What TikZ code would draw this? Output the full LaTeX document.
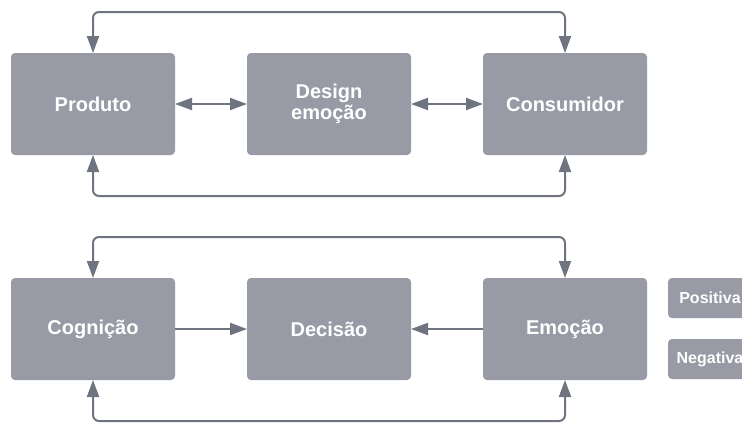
\documentclass[tikz,border=0pt]{standalone}
\usepackage{fontspec}
\setmainfont{Liberation Sans}
\usepackage{xcolor}
\usepackage{tikz}
\usetikzlibrary{arrows.meta,positioning}

\definecolor{boxgray}{HTML}{989BA5}
\definecolor{linegray}{HTML}{6F7480}

\begin{document}
\begin{tikzpicture}[
    x=1pt, y=-1pt,
    node distance=123pt and 72pt,
    box/.style={fill=boxgray, rounded corners=4pt, align=center, text=white,
      minimum width=164pt, minimum height=102pt, inner sep=0pt, outer sep=0pt,
      font=\fontsize{20}{21}\selectfont\bfseries},
    tag/.style={box, minimum width=84pt, minimum height=40pt,
      font=\fontsize{16}{18}\selectfont\bfseries},
    arr/.style={-{Triangle[length=17pt, width=12pt]}, line width=2pt, draw=linegray},
    arrs/.style={{Triangle[length=17pt, width=12pt]}-{Triangle[length=17pt, width=12pt]},
      line width=2pt, draw=linegray},
    loop/.style={arrs, rounded corners=6pt}
  ]
    \useasboundingbox (0,0) rectangle (742,424);
    \clip (0,0) rectangle (742,424);

    \node[box] (prod) at (93,104) {Produto};
    \node[box, right=of prod] (design) {Design\\emoção};
    \node[box, right=of design] (cons) {Consumidor};

    \node[box, below=of prod] (cog) {Cognição};
    \node[box, right=of cog] (dec) {Decisão};
    \node[box, right=of dec] (emo) {Emoção};

    \node[tag, anchor=north west] (pos) at ([xshift=21pt]emo.north east) {Positiva};
    \node[tag, below=21pt of pos] (neg) {Negativa};

    \draw[arrs] (prod) -- (design);
    \draw[arrs] (design) -- (cons);
    \draw[loop] (prod.north) -- ++(0,-41) -| (cons.north);
    \draw[loop] (prod.south) -- ++(0,41) -| (cons.south);

    \draw[arr] (cog) -- (dec);
    \draw[arr] (emo) -- (dec);
    \draw[loop] (cog.north) -- ++(0,-41) -| (emo.north);
    \draw[loop] (cog.south) -- ++(0,41) -| (emo.south);
  \end{tikzpicture}
\end{document}
